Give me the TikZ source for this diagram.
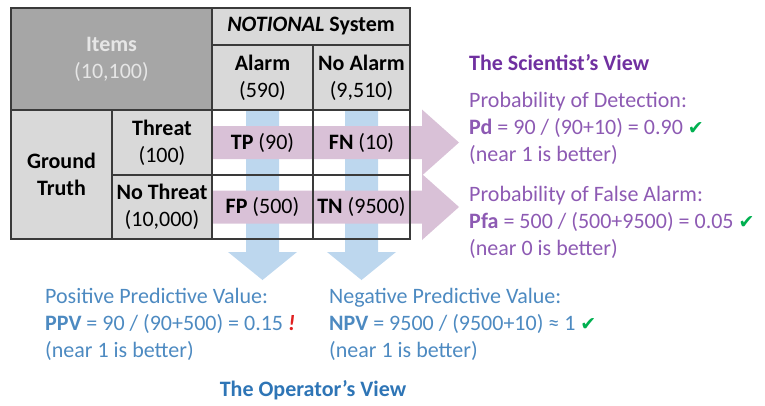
\documentclass[tikz,border=0pt]{standalone}
\usepackage{fontspec}
\setmainfont{Carlito}
\newfontfamily\symbolfont{DejaVu Sans}
\usetikzlibrary{positioning,backgrounds}
\definecolor{darkcell}{HTML}{A6A6A6}
\definecolor{lightcell}{HTML}{D9D9D9}
\definecolor{itemgray}{HTML}{E6E6E6}
\definecolor{gridline}{HTML}{3A3A3A}
\definecolor{mauve}{HTML}{D9C1D7}
\definecolor{skyblue}{HTML}{BDD7EE}
\definecolor{sciviolet}{HTML}{7030A0}
\definecolor{opblue}{HTML}{2E75B6}
\definecolor{okgreen}{HTML}{00B050}
\definecolor{alarmred}{HTML}{E02020}
\newcommand{\okmark}{{\color{okgreen}\symbolfont\fontsize{19}{19}\selectfont ✔}}
\newcommand{\badmark}{{\color{alarmred}\bfseries\itshape !}}

\begin{document}
\begin{tikzpicture}[x=1pt, y=-1pt, font=\fontsize{22}{27}\selectfont,
  cell/.style={draw=gridline, line width=1.3pt, inner sep=0pt, outer sep=0pt, align=center}]
  \useasboundingbox (0,0) rectangle (765,405);
  % Set up the header cells of the table
  \node(items)[cell, fill=darkcell, text=itemgray, minimum width=201pt, minimum height=102pt,
               anchor=north west] at (11,8) {\textbf{Items}\\(10,100)};
  \node[below right=0pt and 0pt of items.north east] (system)[cell, fill=lightcell,
               minimum width=198pt, minimum height=37pt] {\textbf{\textit{NOTIONAL} System}};
  \node[below right=0pt and 0pt of system.south west] (alarm)[cell, fill=lightcell,
               minimum width=101pt, minimum height=65pt] {\textbf{Alarm}\\(590)};
  \node[right=0pt of alarm] (noalarm)[cell, fill=lightcell,
               minimum width=97pt, minimum height=65pt] {\textbf{No Alarm}\\(9,510)};
  % Ground truth cells
  \node[below right=0pt and 0pt of items.south west] (truth)[cell, fill=lightcell,
               minimum width=101pt, minimum height=129pt] {\textbf{Ground}\\\textbf{Truth}};
  \node[below right=0pt and 0pt of truth.north east] (threat)[cell, fill=lightcell,
               minimum width=100pt, minimum height=65pt] {\textbf{Threat}\\(100)};
  \node[below=0pt of threat] (nothreat)[cell, fill=lightcell,
               minimum width=100pt, minimum height=64pt] {\textbf{No Threat}\\(10,000)};
  % Count cells
  \node[below=0pt of alarm] (tp)[cell, minimum width=101pt, minimum height=65pt] {\textbf{TP} (90)};
  \node[below=0pt of noalarm] (fn)[cell, minimum width=97pt, minimum height=65pt] {\textbf{FN} (10)};
  \node[below=0pt of tp] (fp)[cell, minimum width=101pt, minimum height=64pt] {\textbf{FP} (500)};
  \node[below=0pt of fn] (tn)[cell, minimum width=97pt, minimum height=64pt] {\textbf{TN} (9500)};
  % Block arrows behind the counts
  \begin{scope}[on background layer]
    \foreach \top/\bot in {tp/fp, fn/tn}
      \fill[skyblue] ([xshift=-16.5pt]\top.north) -- ([xshift=16.5pt]\top.north)
        -- ([xshift=16.5pt, yshift=-13pt]\bot.south) -- ([xshift=34.5pt, yshift=-13pt]\bot.south)
        -- ([yshift=-41pt]\bot.south) -- ([xshift=-34.5pt, yshift=-13pt]\bot.south)
        -- ([xshift=-16.5pt, yshift=-13pt]\bot.south) -- cycle;
    \foreach \first/\last in {tp/fn, fp/tn}
      \fill[mauve] ([yshift=16.5pt]\first.west) -- ([xshift=12pt, yshift=16.5pt]\last.east)
        -- ([xshift=12pt, yshift=33pt]\last.east) -- ([xshift=49pt]\last.east)
        -- ([xshift=12pt, yshift=-33pt]\last.east) -- ([xshift=12pt, yshift=-16.5pt]\last.east)
        -- ([yshift=-16.5pt]\first.west) -- cycle;
  \end{scope}
  % The scientist's view
  \node(sciview)[anchor=west, inner sep=0pt, text=sciviolet] at (469,63) {\textbf{The Scientist’s View}};
  \node(pd)[anchor=west, inner sep=0pt, align=left, text=sciviolet!80] at (469,128.5)
    {Probability of Detection:\\\textbf{Pd} = 90 / (90+10) = 0.90 \okmark\\(near 1 is better)};
  \node(pfa)[anchor=west, inner sep=0pt, align=left, text=sciviolet!80] at (469,222.5)
    {Probability of False Alarm:\\\textbf{Pfa} = 500 / (500+9500) = 0.05 \okmark\\(near 0 is better)};
  % The operator's view
  \node(ppv)[anchor=west, inner sep=0pt, align=left, text=opblue!85] at (45,324)
    {Positive Predictive Value:\\\textbf{PPV} = 90 / (90+500) = 0.15 \badmark\\(near 1 is better)};
  \node(npv)[anchor=west, inner sep=0pt, align=left, text=opblue!85] at (329,324)
    {Negative Predictive Value:\\\textbf{NPV} = 9500 / (9500+10) ≈ 1 \okmark\\(near 1 is better)};
  \node(opview)[inner sep=0pt, text=opblue] at (313,390) {\textbf{The Operator’s View}};
\end{tikzpicture}
\end{document}
